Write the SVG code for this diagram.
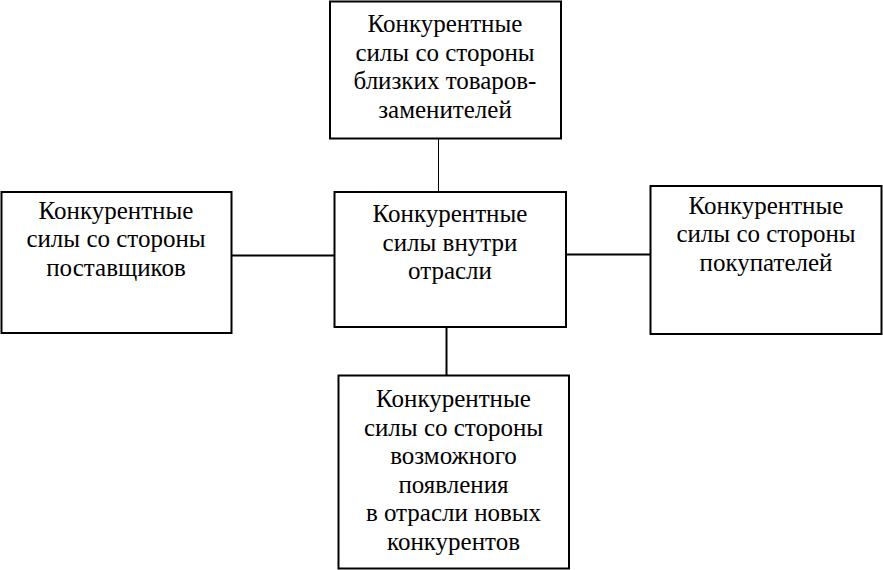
<svg xmlns="http://www.w3.org/2000/svg" width="883" height="570" viewBox="0 0 883 570">
<style>
.box{fill:#fff;stroke:#000;stroke-width:2}
.t{font-family:"Liberation Serif","Times New Roman",serif;font-size:25px;fill:#000;text-anchor:middle}
.c{stroke:#000;stroke-width:2;fill:none}
</style>
<rect width="883" height="570" fill="#fff"/>
<g id="connectors">
<line class="c" x1="438.5" y1="138" x2="438.5" y2="197" style="stroke-width:1"/>
<line class="c" x1="232" y1="255.5" x2="334" y2="255.5"/>
<line class="c" x1="566" y1="254.5" x2="650" y2="254.5"/>
<line class="c" x1="446.5" y1="327" x2="446.5" y2="375"/>
</g>
<g id="top">
<rect class="box" x="330" y="1.5" width="231" height="137"/>
<text class="t" x="445" y="32">Конкурентные</text>
<text class="t" x="445" y="60.5">силы со стороны</text>
<text class="t" x="445" y="89">близких товаров-</text>
<text class="t" x="445" y="117.5">заменителей</text>
</g>
<g id="left">
<rect class="box" x="1.5" y="192" width="230" height="141"/>
<text class="t" x="116" y="218.5">Конкурентные</text>
<text class="t" x="116" y="247">силы со стороны</text>
<text class="t" x="116" y="275.5">поставщиков</text>
</g>
<g id="center">
<rect class="box" x="334.5" y="192" width="231.5" height="135"/>
<text class="t" x="450" y="222">Конкурентные</text>
<text class="t" x="450" y="250.5">силы внутри</text>
<text class="t" x="450" y="279">отрасли</text>
</g>
<g id="right">
<rect class="box" x="650.5" y="186" width="231" height="148"/>
<text class="t" x="766" y="213.5">Конкурентные</text>
<text class="t" x="766" y="242">силы со стороны</text>
<text class="t" x="766" y="270.5">покупателей</text>
</g>
<g id="bottom">
<rect class="box" x="338.5" y="375.5" width="230.5" height="193"/>
<text class="t" x="453.5" y="407">Конкурентные</text>
<text class="t" x="453.5" y="435.5">силы со стороны</text>
<text class="t" x="453.5" y="464">возможного</text>
<text class="t" x="453.5" y="492.5">появления</text>
<text class="t" x="453.5" y="521">в отрасли новых</text>
<text class="t" x="453.5" y="549.5">конкурентов</text>
</g>
</svg>
